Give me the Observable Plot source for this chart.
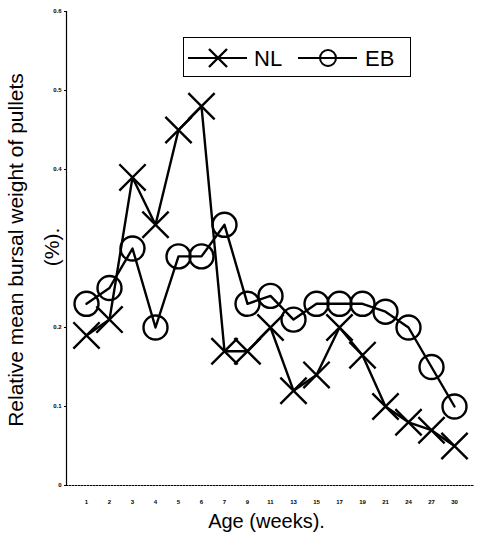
<!DOCTYPE html>
<html>
<head>
<meta charset="utf-8">
<script src="https://cdn.jsdelivr.net/npm/d3@7"></script>
<script src="https://cdn.jsdelivr.net/npm/@observablehq/plot@0.6"></script>
<style>
  html, body { margin: 0; padding: 0; background: #fff; }
  #wrap { position: relative; width: 481px; height: 543px; font-family: "Liberation Sans", Arial, sans-serif; }
  #legend { position: absolute; left: 183px; top: 37px; width: 226px; height: 38px; border: 1.5px solid #000; box-sizing: content-box; }
  .ylab { position: absolute; font-size: 21px; color: #000; white-space: nowrap; transform-origin: center center; }
</style>
</head>
<body>
<div id="wrap"></div>
<script>
const ages = ["1","2","3","4","5","6","7","9","11","13","15","17","19","21","24","27","30"];
const nl = [0.19,0.21,0.39,0.33,0.45,0.48,0.17,0.17,0.20,0.12,0.14,0.20,0.165,0.10,0.08,0.07,0.05];
const eb = [0.23,0.25,0.30,0.20,0.29,0.29,0.33,0.23,0.24,0.21,0.23,0.23,0.23,0.22,0.20,0.15,0.10];
const yTicks = [0,0.1,0.2,0.4,0.5,0.6];
const seriesNames = ["NL","EB"];

const nlData = ages.map((a,i)=>({age:a, v:nl[i]}));
const ebData = ages.map((a,i)=>({age:a, v:eb[i]}));

const chart = Plot.plot({
  width: 481,
  height: 543,
  marginLeft: 66,
  marginRight: 7,
  marginTop: 11,
  marginBottom: 58,
  style: {fontFamily: "Liberation Sans, Arial, sans-serif", background: "#fff"},
  x: {type: "point", domain: ages, padding: 0.55, label: null},
  y: {domain: [0, 0.6], label: null},
  marks: [
    Plot.frame({anchor: "left", stroke: "#000", strokeWidth: 1.2}),
    Plot.frame({anchor: "bottom", stroke: "#000", strokeWidth: 1, strokeDasharray: "1.5,1.5"}),
    Plot.axisY({ticks: yTicks, tickSize: 2, tickPadding: 3, tickFormat: d => d === 0 ? "0" : d3.format(".1f")(d), fontSize: 6, fontWeight: "bold"}),
    Plot.axisX({tickSize: 0, tickPadding: 14, fontSize: 6, fontWeight: "bold"}),
    Plot.line(nlData, {x: "age", y: "v", stroke: "#000", strokeWidth: 2.4}),
    Plot.line(ebData, {x: "age", y: "v", stroke: "#000", strokeWidth: 2.4}),
    Plot.dot(nlData, {x: "age", y: "v", symbol: "times", r: 12, stroke: "#000", strokeWidth: 2.4}),
    Plot.dot(ebData, {x: "age", y: "v", symbol: "circle", r: 12, stroke: "#000", fill: "none", strokeWidth: 2.4}),
    Plot.text(["Age (weeks)."], {frameAnchor: "bottom", dy: 42, dx: -4, fontSize: 20, fill: "#000"})
  ]
});

const wrap = document.getElementById("wrap");
wrap.appendChild(chart);

// y-axis title (two lines)
const l1 = document.createElement("div");
l1.className = "ylab";
l1.textContent = "Relative mean bursal weight of pullets";
wrap.appendChild(l1);
const l2 = document.createElement("div");
l2.className = "ylab";
l2.textContent = "(%).";
wrap.appendChild(l2);
function place(el, cx, cy) {
  const w = el.offsetWidth, h = el.offsetHeight;
  el.style.left = (cx - w/2) + "px";
  el.style.top = (cy - h/2) + "px";
  el.style.transform = "rotate(-90deg)";
}
place(l1, 16, 250);
place(l2, 52, 247);

// legend
const lg = document.createElement("div");
lg.id = "legend";
const svg = d3.create("svg").attr("width", 226).attr("height", 38).style("display","block");
const items = [
  {name: seriesNames[0], sym: "times", x0: 4, textX: 70},
  {name: seriesNames[1], sym: "circle", x0: 114, textX: 181}
];
items.forEach(it => {
  svg.append("line").attr("x1", it.x0).attr("x2", it.x0 + 59).attr("y1", 20).attr("y2", 20).attr("stroke","#000").attr("stroke-width", 2);
  const cx = it.x0 + 30;
  if (it.sym === "times") {
    svg.append("path").attr("d", `M${cx-9},${20-9}L${cx+9},${20+9}M${cx-9},${20+9}L${cx+9},${20-9}`).attr("stroke","#000").attr("stroke-width", 2.4);
  } else {
    svg.append("circle").attr("cx", cx).attr("cy", 20).attr("r", 8).attr("fill","none").attr("stroke","#000").attr("stroke-width", 2);
  }
  svg.append("text").attr("x", it.textX).attr("y", 28).attr("font-size", 22).attr("font-family","Liberation Sans, Arial, sans-serif").text(it.name);
});
lg.appendChild(svg.node());
wrap.appendChild(lg);
</script>
</body>
</html>
